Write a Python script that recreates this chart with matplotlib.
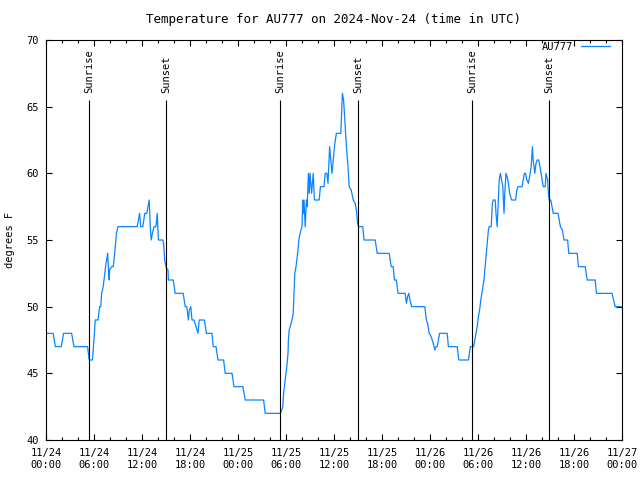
import pandas as pd
import matplotlib
matplotlib.use("Agg")
import matplotlib.pyplot as plt
import matplotlib.dates as mdates

# hours after 2024-11-24 00:00 UTC, temperature in F
hours = [0.0, 0.9, 1.17, 1.9, 2.2, 3.2, 3.35, 3.5, 5.2, 5.3, 5.4, 5.8, 5.9, 6.05, 6.15,
         6.5, 6.7, 6.85, 6.95, 7.15, 7.25, 7.4, 7.5, 7.65, 7.7, 7.8, 7.9, 7.95, 8.2, 8.4,
         8.5, 8.7, 8.8, 9.0, 11.4, 11.55, 11.7, 11.85, 12.1, 12.35, 12.6, 12.75, 12.9, 13.05,
         13.15, 13.3, 13.5, 13.75, 13.9, 14.05, 14.6, 14.7, 14.85, 15.05, 15.25, 15.3, 15.9,
         16.15, 17.15, 17.4, 17.6, 17.8, 17.9, 18.1, 18.25, 18.5, 18.75, 19.0, 19.15, 19.8,
         20.05, 20.75, 20.9, 21.25, 21.5, 22.2, 22.4, 23.25, 23.5, 24.6, 24.9, 27.2, 27.4,
         29.3, 29.6, 29.7, 29.9, 30.1, 30.25, 30.3, 30.4, 30.75, 30.9, 31.0, 31.1, 31.25,
         31.35, 31.5, 31.6, 31.8, 32.0, 32.1, 32.15, 32.25, 32.4, 32.55, 32.65, 32.8, 32.9,
         33.0, 33.2, 33.4, 33.55, 34.15, 34.3, 34.75, 34.9, 35.1, 35.25, 35.45, 35.6, 35.75,
         35.9, 36.1, 36.3, 36.85, 37.05, 37.2, 37.4, 37.55, 37.75, 37.9, 38.15, 38.4, 38.65,
         38.8, 38.95, 39.05, 39.6, 39.75, 41.15, 41.4, 42.9, 43.15, 43.4, 43.55, 43.8, 44.0,
         44.9, 45.05, 45.2, 45.35, 45.5, 45.7, 47.35, 47.55, 47.7, 47.9, 48.15, 48.4, 48.6,
         48.75, 48.9, 49.05, 49.2, 50.15, 50.3, 51.4, 51.6, 52.8, 53.05, 53.45, 53.6, 53.75,
         53.9, 54.05, 54.2, 54.35, 54.55, 54.75, 54.85, 55.0, 55.15, 55.3, 55.4, 55.65, 55.8,
         55.9, 56.15, 56.25, 56.4, 56.55, 56.65, 56.8, 56.95, 57.1, 57.25, 57.35, 57.5, 57.65,
         57.8, 57.95, 58.2, 58.7, 58.85, 59.0, 59.5, 59.65, 59.8, 59.95, 60.1, 60.3, 60.45,
         60.65, 60.8, 60.9, 61.1, 61.25, 61.4, 61.6, 61.75, 61.95, 62.15, 62.4, 62.5, 62.7,
         62.8, 62.9, 63.1, 63.25, 63.4, 64.0, 64.15, 64.3, 64.55, 64.75, 65.2, 65.35, 66.4,
         66.55, 67.4, 67.65, 68.65, 68.8, 70.75, 70.95, 71.15, 71.9]
temps = [48, 48, 47, 47, 48, 48, 47.5, 47, 47, 46.5, 46, 46, 46.75, 48, 49,
         49, 50, 50, 51, 51.5, 52, 52.75, 53.25, 53.75, 54, 53, 52, 52.75, 53, 53,
         53.5, 54.75, 55.5, 56, 56, 56.5, 57, 56, 56, 57, 57, 57.5, 58, 55.8,
         55, 55.5, 56, 56, 57, 55, 55, 54.75, 53.4, 52.9, 52.75, 52, 52,
         51, 51, 50, 50, 49, 49.7, 50, 49, 49, 48.5, 48, 49, 49,
         48, 48, 47, 47, 46, 46, 45, 45, 44, 44, 43, 43, 42,
         42, 42.5, 43.5, 44.5, 45.5, 46.5, 47.5, 48.25, 49, 49.5, 51, 52.5, 53,
         53.5, 54.25, 55, 55.6, 56, 58, 57, 58, 56, 58, 57.5, 60, 58.5,
         60, 58.5, 60, 58, 58, 59, 59, 60, 60, 59.25, 62, 61, 60,
         61, 62.25, 63, 63, 66, 65.5, 63.5, 62, 60.5, 59, 58.75, 58, 57.75,
         57.25, 56.25, 56, 56, 55, 55, 54, 54, 53, 53, 52, 52, 51,
         51, 50.25, 50.75, 51, 50.5, 50, 50, 49, 48.75, 48, 47.75, 47.25, 46.75,
         47, 47, 47.5, 48, 48, 47, 47, 46, 46, 47, 47, 47.5, 48,
         48.5, 49.25, 49.75, 50.5, 51.25, 52, 52.75, 53.75, 54.75, 55.75, 56, 56, 57.75,
         58, 58, 57, 56, 58, 59.5, 60, 59.5, 59, 57, 58.5, 60, 59.75,
         59.25, 58.5, 58, 58, 58.75, 59, 59, 59.5, 60, 60, 59.5, 59.25, 59.75,
         60.5, 62, 61, 60, 60.75, 61, 61, 60.5, 59.75, 59, 59, 60, 59.5,
         58.5, 58, 58, 57.5, 57, 57, 56.5, 56, 55.75, 55, 55, 54, 54,
         53, 53, 52, 52, 51, 51, 50.5, 50, 50]

sun_times = ["2024-11-24 05:25", "2024-11-24 15:02", "2024-11-25 05:17",
             "2024-11-25 15:02", "2024-11-26 05:17", "2024-11-26 14:55"]
sun_labels = ["Sunrise", "Sunset", "Sunrise", "Sunset", "Sunrise", "Sunset"]

start = pd.Timestamp("2024-11-24 00:00")
times = start + pd.to_timedelta(hours, unit="h")

plt.rcParams["font.family"] = "DejaVu Sans Mono"
plt.rcParams["font.size"] = 7.5

fig = plt.figure(figsize=(6.4, 4.8), dpi=100)
ax = fig.add_axes([46 / 640, 40 / 480, 576 / 640, 400 / 480])

ax.plot(times, temps, color="#0a84ff", lw=0.9, label="AU777")

for t, lab in zip(pd.to_datetime(sun_times), sun_labels):
    ax.vlines(t, 40, 65.5, color="black", lw=0.8)
    ax.text(t, 66.05, lab, rotation=90, ha="center", va="bottom")

ax.set_xlim(start, pd.Timestamp("2024-11-27 00:00"))
ax.set_ylim(40, 70)
ax.set_yticks(range(40, 71, 5))
ax.xaxis.set_major_locator(mdates.HourLocator(byhour=range(0, 24, 6)))
ax.xaxis.set_minor_locator(mdates.HourLocator(byhour=range(0, 24, 2)))
ax.xaxis.set_major_formatter(mdates.DateFormatter("%m/%d\n%H:%M"))
ax.tick_params(which="both", direction="in", top=True, right=True, width=0.8)
ax.tick_params(which="major", length=4.5)
ax.tick_params(which="minor", length=2.5)
ax.tick_params(axis="x", pad=6)
ax.tick_params(axis="y", pad=5)
for s in ax.spines.values():
    s.set_linewidth(0.8)

ax.set_title("Temperature for AU777 on 2024-Nov-24 (time in UTC)", pad=12)
fig.text(10 / 640, 0.5, "degrees F", rotation=90, ha="center", va="center")
ax.legend(loc="upper right", bbox_to_anchor=(564 / 576, 0.995), frameon=False,
          markerfirst=False, handlelength=2.8, handletextpad=0.7,
          borderpad=0, borderaxespad=0)

fig.savefig("out.png", dpi=100)
